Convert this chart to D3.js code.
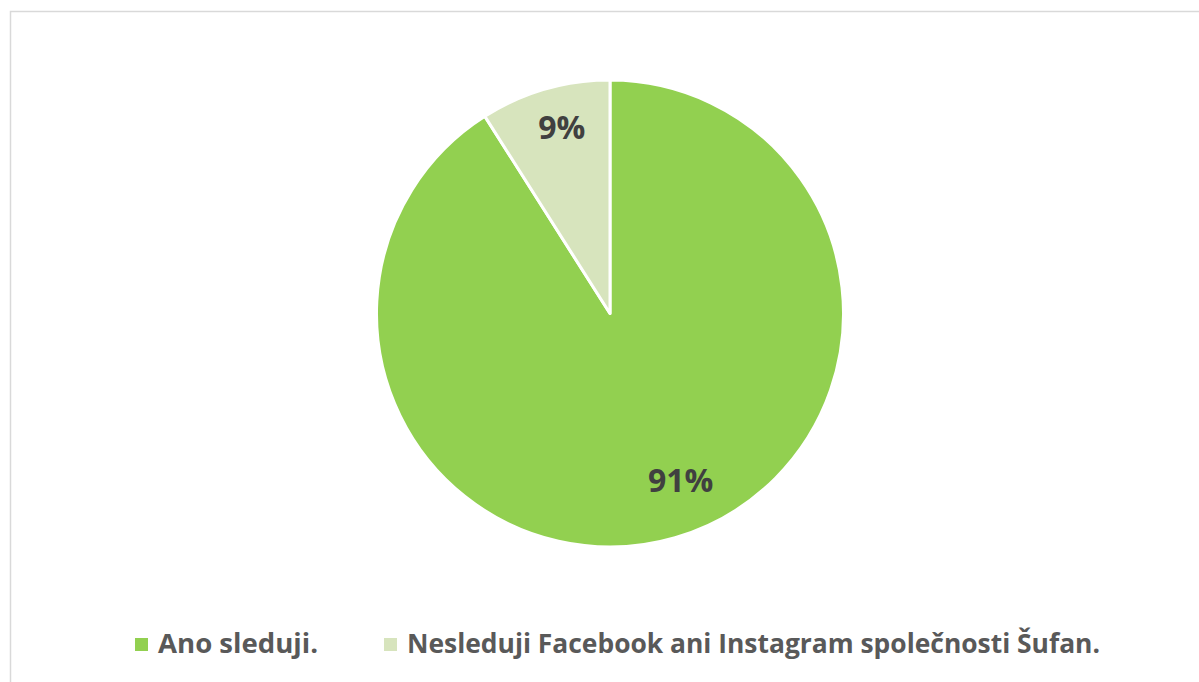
<!DOCTYPE html>
<html>
<head>
<meta charset="utf-8">
<script src="https://cdn.jsdelivr.net/npm/d3@7"></script>
<style>
  html, body { margin: 0; padding: 0; background: #fff; }
  svg { display: block; }
</style>
</head>
<body>
<svg id="chart" width="1199" height="682"></svg>
<script>
// Survey answers and their shares (percent)
const categories = ["Ano sleduji.", "Nesleduji Facebook ani Instagram společnosti Šufan."];
const values = [91, 9];
const valueLabels = ["91%", "9%"];
const colors = ["#92D050", "#D7E4BD"];

const svg = d3.select("#chart");
const W = 1199, H = 682;

// Chart frame (only top and left edges fall inside the window)
svg.append("rect")
  .attr("x", 10.5).attr("y", 11.5)
  .attr("width", W + 20).attr("height", H + 20)
  .attr("fill", "#fff")
  .attr("stroke", "#D9D9D9")
  .attr("stroke-width", 1.5);

const cx = 610, cy = 313.5, r = 233.5;

const pie = d3.pie().sort(null).value(d => d.value);
const arcs = pie(categories.map((c, i) => ({ cat: c, value: values[i], label: valueLabels[i], color: colors[i] })));
const arc = d3.arc().innerRadius(0).outerRadius(r);

const g = svg.append("g").attr("transform", `translate(${cx},${cy})`);

g.selectAll("path.slice")
  .data(arcs)
  .join("path")
  .attr("class", "slice")
  .attr("d", arc)
  .attr("fill", d => d.data.color)
  .attr("stroke", "#fff")
  .attr("stroke-width", 3)
  .attr("stroke-linejoin", "round");

// Value labels: placed along each slice's mid-angle, with a small angular nudge
const labelRadius = [0.774, 0.829];
const labelNudge = [-6.8, 1.8]; // degrees
g.selectAll("text.val")
  .data(arcs)
  .join("text")
  .attr("class", "val")
  .attr("transform", (d, i) => {
    const a = (d.startAngle + d.endAngle) / 2 + labelNudge[i] * Math.PI / 180;
    const rr = r * labelRadius[i];
    return `translate(${rr * Math.sin(a)},${-rr * Math.cos(a)})`;
  })
  .attr("text-anchor", "middle")
  .attr("dominant-baseline", "central")
  .attr("font-family", "'Open Sans', 'Noto Sans', sans-serif")
  .attr("font-weight", "bold")
  .attr("font-size", 32)
  .attr("fill", "#404040")
  .text(d => d.data.label);

// Legend
const legend = svg.append("g");
const legendX = [135, 384];
const textWidths = [160, 693];
categories.forEach((c, i) => {
  legend.append("rect")
    .attr("x", legendX[i]).attr("y", 638)
    .attr("width", 13).attr("height", 13)
    .attr("fill", colors[i]);
  legend.append("text")
    .attr("x", legendX[i] + 23).attr("y", 653)
    .attr("font-family", "'Open Sans', 'Noto Sans', sans-serif")
    .attr("font-weight", "bold")
    .attr("font-size", 26)
    .attr("fill", "#595959")
    .attr("textLength", textWidths[i])
    .attr("lengthAdjust", "spacingAndGlyphs")
    .text(c);
});
</script>
</body>
</html>
